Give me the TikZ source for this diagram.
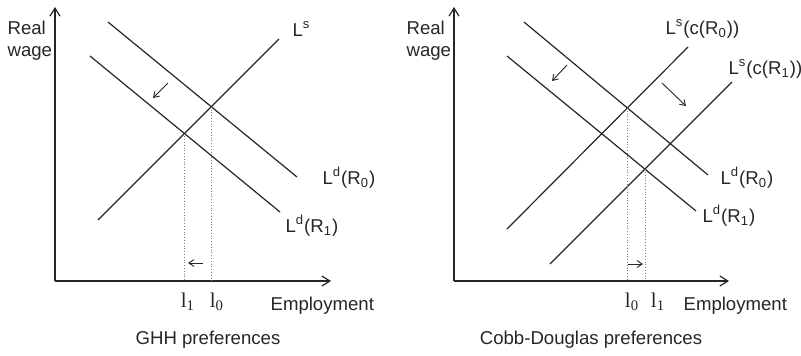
\documentclass[tikz,border=0pt]{standalone}
\usepackage{fontspec}
\setmainfont{Liberation Sans}
\newfontfamily\lfont{Liberation Serif}
\usetikzlibrary{arrows.meta, intersections}

\begin{document}
\begin{tikzpicture}[
    x=0.5pt, y=-0.5pt, line width=0.6pt, black!85,
    font=\fontsize{9.3}{11}\selectfont,
    axis/.style={-{Straight Barb[length=4pt, width=5pt]}},
    shiftarrow/.style={-{Straight Barb[length=2.6pt, width=3.4pt]}, line width=0.45pt},
    guide/.style={densely dotted, gray, line width=0.4pt},
    lab/.style={anchor=west, inner sep=0pt},
    ell/.style={font=\lfont\fontsize{10.5}{12}\selectfont, inner sep=0pt}
]
\useasboundingbox (0,0) rectangle (801,355);

% GHH preferences
\coordinate (o1) at (55,281);
\coordinate (y1) at (55,7);
\coordinate (x1) at (331,281);
\draw[axis] (o1) -- (y1);
\draw[axis] (o1) -- (x1);
\node[lab, align=left] (rw1) at (7,41) {Real\\wage};
\node[lab] (em1) at (270,306) {Employment};

\coordinate (ls-a) at (98,220);
\coordinate (ls-b) at (279,39);
\coordinate (ld0-a) at (108,22);
\coordinate (ld0-b) at (297,177);
\coordinate (ld1-a) at (90,56);
\coordinate (ld1-b) at (280,212);
\draw[name path=ls] (ls-a) -- (ls-b);
\draw[name path=ld0] (ld0-a) -- (ld0-b);
\draw[name path=ld1] (ld1-a) -- (ld1-b);
\node[lab] (ls-lab) at (292,29) {L\textsuperscript{s}};
\node[lab] (ld0-lab) at (322,178) {L\textsuperscript{d}(R\textsubscript{0})};
\node[lab] (ld1-lab) at (285,226) {L\textsuperscript{d}(R\textsubscript{1})};

\path[name intersections={of=ls and ld0, by=e0}];
\path[name intersections={of=ls and ld1, by=e1}];
\draw[guide] (e0) -- (e0 |- o1);
\draw[guide] (e1) -- (e1 |- o1);
\node[ell] (l1a) at (188,302) {l\textsubscript{1}};
\node[ell] (l0a) at (217,302) {l\textsubscript{0}};

\coordinate (s1-a) at (203,263);
\coordinate (s1-b) at (188,263);
\draw[shiftarrow] (s1-a) -- (s1-b);
\coordinate (d1-a) at (168,83);
\coordinate (d1-b) at (153,98);
\draw[shiftarrow] (d1-a) -- (d1-b);
\node (cap1) at (208,340) {GHH preferences};

% Cobb-Douglas preferences
\coordinate (o2) at (454,281);
\coordinate (y2) at (454,7);
\coordinate (x2) at (729,281);
\draw[axis] (o2) -- (y2);
\draw[axis] (o2) -- (x2);
\node[lab, align=left] (rw2) at (406,41) {Real\\wage};
\node[lab] (em2) at (683,306) {Employment};

\coordinate (ls0-a) at (507,229);
\coordinate (ls0-b) at (688,47);
\coordinate (ls1-a) at (550,264);
\coordinate (ls1-b) at (732,82);
\coordinate (kd0-a) at (524,22);
\coordinate (kd0-b) at (708,175);
\coordinate (kd1-a) at (507,56);
\coordinate (kd1-b) at (696,211);
\draw[name path=ls0] (ls0-a) -- (ls0-b);
\draw[name path=ls1] (ls1-a) -- (ls1-b);
\draw[name path=kd0] (kd0-a) -- (kd0-b);
\draw[name path=kd1] (kd1-a) -- (kd1-b);
\node[lab] (ls0-lab) at (665,29) {L\textsuperscript{s}(c(R\textsubscript{0}))};
\node[lab] (ls1-lab) at (728,69) {L\textsuperscript{s}(c(R\textsubscript{1}))};
\node[lab] (kd0-lab) at (720,178) {L\textsuperscript{d}(R\textsubscript{0})};
\node[lab] (kd1-lab) at (702,216) {L\textsuperscript{d}(R\textsubscript{1})};

\path[name intersections={of=ls0 and kd0, by=f0}];
\path[name intersections={of=ls1 and kd1, by=f1}];
\draw[guide] (f0) -- (f0 |- o2);
\draw[guide] (f1) -- (f1 |- o2);
\node[ell] (l0b) at (632,302) {l\textsubscript{0}};
\node[ell] (l1b) at (658,302) {l\textsubscript{1}};

\coordinate (s2-a) at (628,264);
\coordinate (s2-b) at (643,264);
\draw[shiftarrow] (s2-a) -- (s2-b);
\coordinate (d2-a) at (567,65);
\coordinate (d2-b) at (552,81);
\draw[shiftarrow] (d2-a) -- (d2-b);
\coordinate (d3-a) at (662,83);
\coordinate (d3-b) at (686,106);
\draw[shiftarrow] (d3-a) -- (d3-b);
\node (cap2) at (591,340) {Cobb-Douglas preferences};
\end{tikzpicture}
\end{document}
